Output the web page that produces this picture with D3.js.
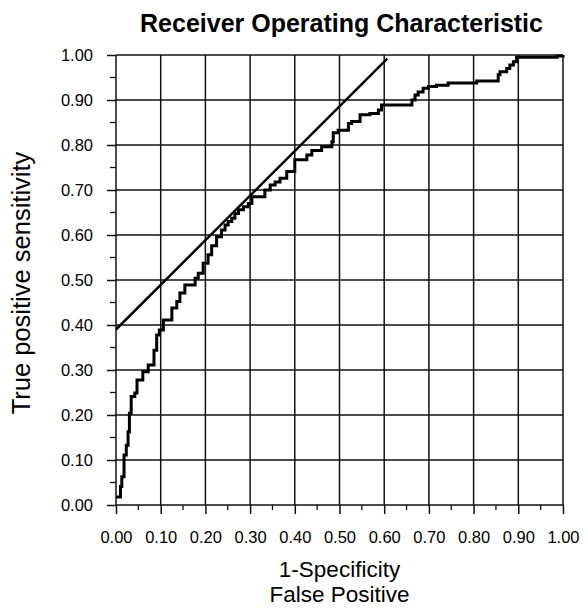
<!DOCTYPE html>
<html>
<head>
<meta charset="utf-8">
<script src="https://cdn.jsdelivr.net/npm/d3@7"></script>
<style>
  body { margin: 0; background: #fff; }
  svg { display: block; font-family: "Liberation Sans", Arial, sans-serif; }
</style>
</head>
<body>
<div id="chart"></div>
<script>
// ROC step curve
const fpr = [0.000, 0.010, 0.013, 0.018, 0.023, 0.027, 0.030, 0.034, 0.042, 0.047,
             0.060, 0.072, 0.085, 0.091, 0.097, 0.106, 0.125, 0.136, 0.143, 0.154,
             0.177, 0.184, 0.195, 0.206, 0.214, 0.225, 0.236, 0.244, 0.251, 0.259,
             0.266, 0.274, 0.285, 0.296, 0.304, 0.333, 0.345, 0.356, 0.367, 0.382,
             0.400, 0.427, 0.438, 0.460, 0.483, 0.486, 0.497, 0.520, 0.527, 0.546,
             0.568, 0.587, 0.594, 0.662, 0.669, 0.676, 0.687, 0.699, 0.717, 0.743,
             0.807, 0.855, 0.859, 0.874, 0.881, 0.889, 0.896, 0.987, 1.000];
const tpr = [0.018, 0.041, 0.063, 0.111, 0.133, 0.163, 0.204, 0.241, 0.249, 0.278,
             0.296, 0.311, 0.344, 0.378, 0.389, 0.411, 0.438, 0.452, 0.471, 0.489,
             0.504, 0.515, 0.537, 0.556, 0.576, 0.596, 0.611, 0.622, 0.630, 0.637,
             0.648, 0.656, 0.663, 0.670, 0.685, 0.700, 0.711, 0.718, 0.726, 0.741,
             0.767, 0.778, 0.788, 0.796, 0.807, 0.827, 0.833, 0.848, 0.852, 0.867,
             0.870, 0.878, 0.889, 0.900, 0.911, 0.918, 0.926, 0.930, 0.933, 0.938,
             0.942, 0.956, 0.963, 0.970, 0.978, 0.985, 0.995, 0.998, 1.000];

// straight reference line
const refLine = [[0, 0.39], [0.607, 0.992]];

const majorTicks = d3.range(0, 1.0001, 0.1);
const minorTicks = d3.range(0.05, 1, 0.1);

const width = 587, height = 609;
const margin = {left: 116, right: 24, top: 55, bottom: 104};

const svg = d3.select("#chart").append("svg")
    .attr("width", width)
    .attr("height", height);

const x = d3.scaleLinear().domain([0, 1]).range([margin.left, width - margin.right]);
const y = d3.scaleLinear().domain([0, 1]).range([height - margin.bottom, margin.top]);

// grid
svg.append("g").selectAll("line.v").data(majorTicks).join("line")
    .attr("x1", d => x(d)).attr("x2", d => x(d))
    .attr("y1", y(0)).attr("y2", y(1))
    .attr("stroke", "#111").attr("stroke-width", 1.5);
svg.append("g").selectAll("line.h").data(majorTicks).join("line")
    .attr("x1", x(0)).attr("x2", x(1))
    .attr("y1", d => y(d)).attr("y2", d => y(d))
    .attr("stroke", "#111").attr("stroke-width", 1.5);

// axes
const fmt = d3.format(".2f");
const xAxis = svg.append("g")
    .attr("transform", `translate(0,${y(0)})`)
    .call(d3.axisBottom(x).tickValues(majorTicks).tickFormat(fmt).tickSize(9).tickPadding(17));
xAxis.append("g").selectAll("line").data(minorTicks).join("line")
    .attr("x1", d => x(d)).attr("x2", d => x(d))
    .attr("y1", 0).attr("y2", 5).attr("stroke", "#111").attr("stroke-width", 1.3);

const yAxis = svg.append("g")
    .attr("transform", `translate(${x(0)},0)`)
    .call(d3.axisLeft(y).tickValues(majorTicks).tickFormat(fmt).tickSize(9).tickPadding(14));
yAxis.append("g").selectAll("line").data(minorTicks).join("line")
    .attr("x1", -6).attr("x2", 0)
    .attr("y1", d => y(d)).attr("y2", d => y(d))
    .attr("stroke", "#111").attr("stroke-width", 1.3);

svg.selectAll(".domain").remove();
svg.selectAll(".tick line").attr("stroke", "#111").attr("stroke-width", 1.5);
svg.selectAll(".tick text")
    .attr("font-size", 16.5).attr("fill", "#000")
    .attr("font-family", "Liberation Sans, Arial, sans-serif");

// reference line
svg.append("line")
    .attr("x1", x(refLine[0][0])).attr("y1", y(refLine[0][1]))
    .attr("x2", x(refLine[1][0])).attr("y2", y(refLine[1][1]))
    .attr("stroke", "#000").attr("stroke-width", 2.5);

// ROC curve
const pts = fpr.map((d, i) => [d, tpr[i]]);
svg.append("path")
    .datum(pts)
    .attr("fill", "none")
    .attr("stroke", "#000")
    .attr("stroke-width", 3)
    .attr("d", d3.line().x(d => x(d[0])).y(d => y(d[1])).curve(d3.curveStepAfter));

// titles
svg.append("text")
    .attr("x", (x(0) + x(1)) / 2 + 2).attr("y", 32)
    .attr("text-anchor", "middle")
    .attr("font-size", 25).attr("font-weight", "bold")
    .text("Receiver Operating Characteristic");

svg.append("text")
    .attr("x", (x(0) + x(1)) / 2).attr("y", 577)
    .attr("text-anchor", "middle")
    .attr("font-size", 22.5)
    .text("1-Specificity");
svg.append("text")
    .attr("x", (x(0) + x(1)) / 2).attr("y", 602)
    .attr("text-anchor", "middle")
    .attr("font-size", 22.5)
    .text("False Positive");

svg.append("text")
    .attr("transform", `translate(30,${(y(0) + y(1)) / 2 + 3}) rotate(-90)`)
    .attr("text-anchor", "middle")
    .attr("font-size", 25.5)
    .text("True positive sensitivity");
</script>
</body>
</html>
